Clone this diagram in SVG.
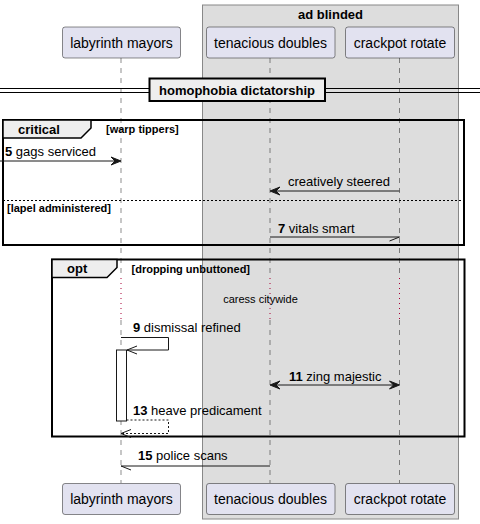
<svg xmlns="http://www.w3.org/2000/svg" width="480" height="524" viewBox="0 0 480 524">
<style>
text{font-family:"Liberation Sans",Arial,sans-serif;fill:#000}
.p{font-size:14px;text-anchor:middle}
.m{font-size:13px}
.b{font-weight:bold}
.g{font-size:11px;font-weight:bold}
.pr{fill:#E2E2F0;stroke:#181818;stroke-width:0.5}
.ll{stroke:#181818;stroke-width:0.5;stroke-dasharray:5,5;fill:none}
.dl{stroke:#A80036;stroke-width:1;stroke-dasharray:1,4;fill:none}
.fr{fill:none;stroke:#000;stroke-width:2}
.tab{fill:#EEEEEE;stroke:#000;stroke-width:1.5}
.msg{stroke:#181818;stroke-width:1;fill:none}
.ah{fill:#181818;stroke:#181818;stroke-width:1}
</style>
<rect x="202.5" y="5" width="256" height="514" fill="#DDDDDD" stroke="#888" stroke-width="1"/>
<text x="330.5" y="19" class="m b" text-anchor="middle">ad blinded</text>
<g id="lifelines">
<path class="ll" d="M121,58V277M270,58V277M399.5,58V277M121,320V483M270,320V483M399.5,320V483"/>
<path class="dl" d="M121,278V320M270,278V320M399.5,278V320"/>
</g>
<g id="divider">
<path d="M0,88.5H480M0,92.5H480" stroke="#000" stroke-width="1"/>
<rect x="149.5" y="78.5" width="175.5" height="22.5" fill="#EEEEEE" stroke="#000" stroke-width="2"/>
<text x="237" y="95" class="m b" text-anchor="middle">homophobia dictatorship</text>
</g>
<g id="frame-critical">
<rect class="fr" x="3" y="120" width="461" height="125"/>
<path class="tab" d="M3,120H91V128L81,138H3Z"/>
<text x="18" y="134" class="m b">critical</text>
<text x="106" y="133" class="g">[warp tippers]</text>
<path d="M3,200.5H464" stroke="#000" stroke-width="1" stroke-dasharray="2,2"/>
<text x="7" y="212" class="g">[lapel administered]</text>
</g>
<g id="frame-opt">
<rect class="fr" x="52" y="259.5" width="412.5" height="177"/>
<path class="tab" d="M52,259.5H117V267.5L107,277.5H52Z"/>
<text x="67" y="273" class="m b">opt</text>
<text x="131.5" y="273" class="g">[dropping unbuttoned]</text>
<text x="260.5" y="303" font-size="11" text-anchor="middle">caress citywide</text>
</g>
<g id="activation">
<rect x="116.5" y="350" width="10" height="71" fill="#FFFFFF" stroke="#181818" stroke-width="1"/>
</g>
<g id="connectors">
<path class="msg" d="M0,161H119"/>
<path class="ah" d="M121,161L111,157L115,161L111,165Z"/>
<text x="5" y="156" class="m"><tspan class="b">5</tspan> gags serviced</text>

<path class="msg" d="M272,191H399.5"/>
<path class="ah" d="M270,191L280,187L276,191L280,195Z"/>
<text x="288" y="186" class="m">creatively steered</text>

<path class="msg" d="M270,237H399.5L389.5,241"/>
<text x="278" y="233" class="m"><tspan class="b">7</tspan> vitals smart</text>

<path class="msg" d="M121,337.5H168.5V350H127M137,346L127,350L137,354"/>
<text x="133" y="332" class="m"><tspan class="b">9</tspan> dismissal refined</text>

<path class="msg" d="M272,385H397.5"/>
<path class="ah" d="M270,385L280,381L276,385L280,389Z"/>
<path class="ah" d="M399.5,385L389.5,381L393.5,385L389.5,389Z"/>
<text x="289" y="381" class="m"><tspan class="b">11</tspan> zing majestic</text>

<path class="msg" d="M126.5,420H168.5V433.5H121" stroke-dasharray="2,2"/>
<path class="msg" d="M131,429.5L121,433.5L131,437.5"/>
<text x="133" y="415" class="m"><tspan class="b">13</tspan> heave predicament</text>

<path class="msg" d="M270,466H121L131,470"/>
<text x="138" y="460" class="m"><tspan class="b">15</tspan> police scans</text>
</g>
<g id="p-labyrinth-mayors">
<rect class="pr" x="62.5" y="27" width="118" height="31" rx="2.5"/>
<text x="121.5" y="47.5" class="p">labyrinth mayors</text>
<rect class="pr" x="62.5" y="483.5" width="118" height="31" rx="2.5"/>
<text x="121.5" y="504" class="p">labyrinth mayors</text>
</g>
<g id="p-tenacious-doubles">
<rect class="pr" x="206.5" y="27" width="128.5" height="31" rx="2.5"/>
<text x="270.5" y="47.5" class="p">tenacious doubles</text>
<rect class="pr" x="206.5" y="483.5" width="128.5" height="31" rx="2.5"/>
<text x="270.5" y="504" class="p">tenacious doubles</text>
</g>
<g id="p-crackpot-rotate">
<rect class="pr" x="345.5" y="27" width="109" height="31" rx="2.5"/>
<text x="400" y="47.5" class="p">crackpot rotate</text>
<rect class="pr" x="345.5" y="483.5" width="109" height="31" rx="2.5"/>
<text x="400" y="504" class="p">crackpot rotate</text>
</g>
</svg>
